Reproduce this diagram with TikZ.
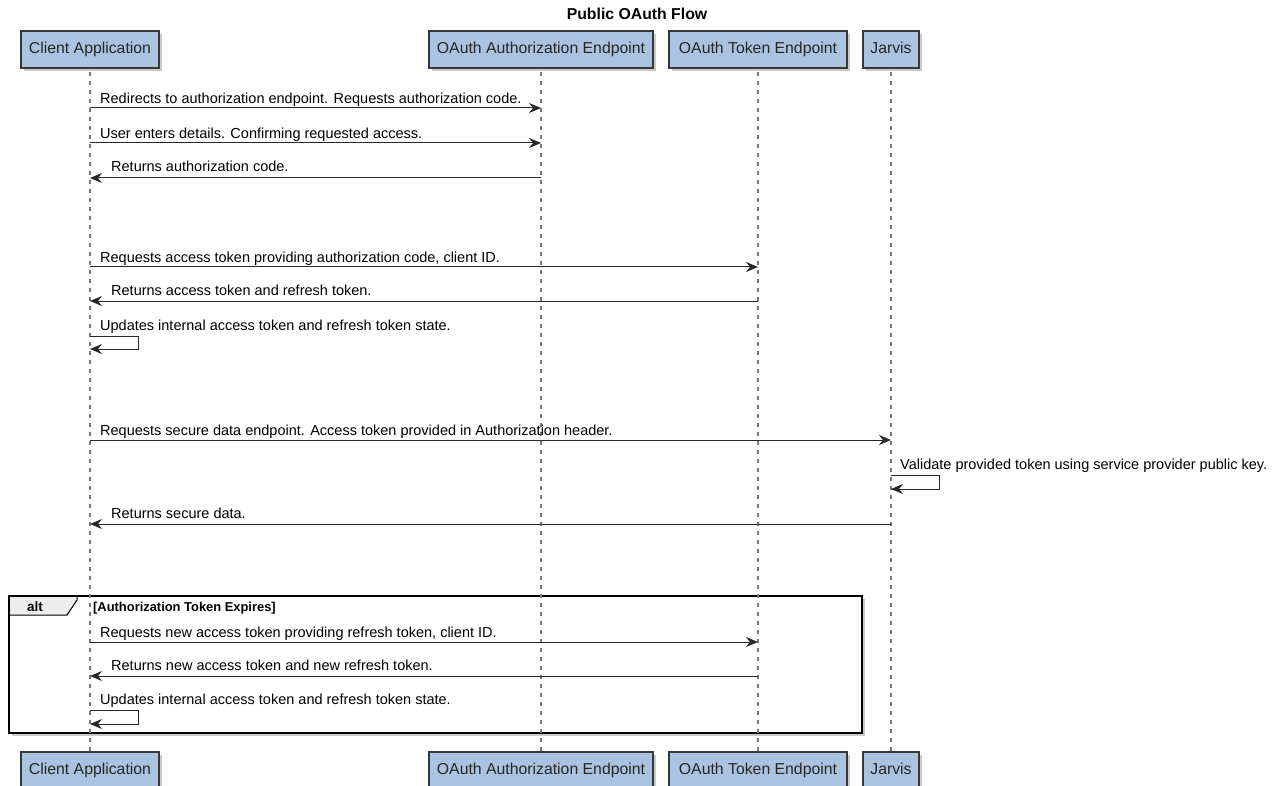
\documentclass[tikz,border=0pt]{standalone}
\usepackage{fontspec}
\setmainfont{Liberation Sans}
\usetikzlibrary{arrows.meta,shadows}
\definecolor{partfill}{RGB}{170,195,224}
\definecolor{partdraw}{RGB}{56,56,56}
\definecolor{lifecol}{RGB}{120,120,120}
\definecolor{msgcol}{RGB}{40,40,40}
\definecolor{tabfill}{RGB}{238,238,238}
\tikzset{
  part/.style={draw=partdraw, line width=1.3pt, fill=partfill, minimum height=37pt,
    inner sep=0pt, font=\fontsize{15.8}{18}\selectfont, text=black!85,
    text height=11.5pt, text depth=3pt,
    drop shadow={shadow xshift=3pt, shadow yshift=-3pt, fill=black!35, opacity=0.6}},
  life/.style={draw=lifecol, line width=2pt, dash pattern=on 4.5pt off 4.5pt},
  msg/.style={draw=msgcol, line width=1pt, -{Stealth[length=12pt,width=10pt,inset=4pt]}},
  msgtxt/.style={anchor=base west, inner sep=0pt, font=\fontsize{14.5}{17}\selectfont},
}
\begin{document}
\begin{tikzpicture}[x=1pt,y=-1pt]
\useasboundingbox (0,0) rectangle (1279,786);
% title
\node[anchor=base, inner sep=0pt, font=\bfseries\fontsize{15.8}{18}\selectfont] (title) at (637,20) {Public OAuth Flow};
% participants top
\node[part, minimum width=138pt] (ca) at (90,49.5) {Client Application};
\node[part, minimum width=224pt] (ae) at (541,49.5) {OAuth Authorization Endpoint};
\node[part, minimum width=178pt] (te) at (758,49.5) {OAuth Token Endpoint};
\node[part, minimum width=56pt] (jv) at (891,49.5) {Jarvis};
% participants bottom
\node[part, minimum width=138pt] (cab) at (90,770.5) {Client Application};
\node[part, minimum width=224pt] (aeb) at (541,770.5) {OAuth Authorization Endpoint};
\node[part, minimum width=178pt] (teb) at (758,770.5) {OAuth Token Endpoint};
\node[part, minimum width=56pt] (jvb) at (891,770.5) {Jarvis};
% alt frame (behind lifelines)
\draw[line width=2pt, draw=black, fill=white, drop shadow={shadow xshift=3pt, shadow yshift=-3pt, fill=black!35, opacity=0.6}]
  (9,596) rectangle (862,733);
\draw[line width=1pt, fill=tabfill] (9,596) -- (77,596) -- (77,600) -- (67,615) -- (9,615) -- cycle;
\draw[line width=2pt] (9,596) rectangle (862,733);
\node[anchor=base, inner sep=0pt, font=\bfseries\fontsize{13.5}{16}\selectfont] (alt) at (35,611) {alt};
\node[anchor=base west, inner sep=0pt, font=\bfseries\fontsize{12.9}{15}\selectfont] (cond) at (93,611) {[Authorization Token Expires]};
% lifelines
\draw[life] (ca.south) ++(0,3) -- (cab.north);
\draw[life] (ae.south) ++(0,3) -- (aeb.north);
\draw[life] (te.south) ++(0,3) -- (teb.north);
\draw[life] (jv.south) ++(0,3) -- (jvb.north);
% messages
\draw[msg] (ca |- 0,108) -- (ae |- 0,108);
\node[msgtxt] (m1) at (100,103.5) {Redirects to authorization endpoint. Requests authorization code.};
\draw[msg] (ca |- 0,143) -- (ae |- 0,143);
\node[msgtxt] (m2) at (100,138.5) {User enters details. Confirming requested access.};
\draw[msg] (ae |- 0,178) -- (ca |- 0,178);
\node[msgtxt] (m3) at (111,172) {Returns authorization code.};
\draw[msg] (ca |- 0,267) -- (te |- 0,267);
\node[msgtxt] (m4) at (100,262.5) {Requests access token providing authorization code, client ID.};
\draw[msg] (te |- 0,301) -- (ca |- 0,301);
\node[msgtxt] (m5) at (111,295) {Returns access token and refresh token.};
\draw[msg] (ca |- 0,336) -- ++(48,0) -- ++(0,13) -- (ca |- 0,349);
\node[msgtxt] (m6) at (100,330.5) {Updates internal access token and refresh token state.};
\draw[msg] (ca |- 0,440) -- (jv |- 0,440);
\node[msgtxt] (m7) at (100,435.5) {Requests secure data endpoint. Access token provided in Authorization header.};
\draw[msg] (jv |- 0,475) -- ++(48,0) -- ++(0,14) -- (jv |- 0,489);
\node[msgtxt] (m8) at (900,469.5) {Validate provided token using service provider public key.};
\draw[msg] (jv |- 0,524) -- (ca |- 0,524);
\node[msgtxt] (m9) at (111,518) {Returns secure data.};
\draw[msg] (ca |- 0,642) -- (te |- 0,642);
\node[msgtxt] (m10) at (100,637.5) {Requests new access token providing refresh token, client ID.};
\draw[msg] (te |- 0,676) -- (ca |- 0,676);
\node[msgtxt] (m11) at (111,670) {Returns new access token and new refresh token.};
\draw[msg] (ca |- 0,710) -- ++(48,0) -- ++(0,14) -- (ca |- 0,724);
\node[msgtxt] (m12) at (100,704.5) {Updates internal access token and refresh token state.};
\end{tikzpicture}
\end{document}
